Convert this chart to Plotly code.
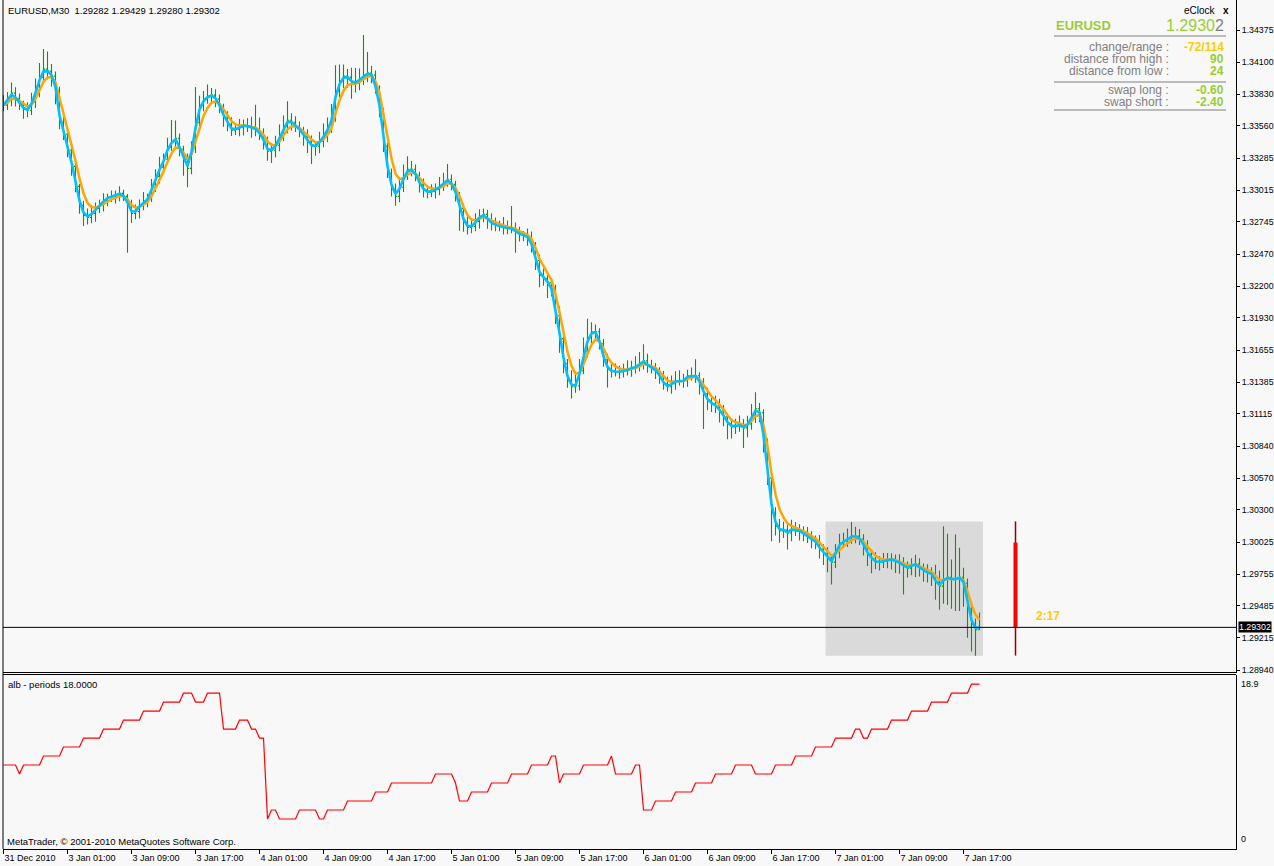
import pandas as pd
import plotly.graph_objects as go

SYMBOL = "EURUSD"
TIMEFRAME = "M30"
PIP = 0.0001

# ---------------- data ----------------
x_tick_bars = [0, 16, 32, 48, 64, 80, 96, 112, 128, 144, 160, 176, 192, 208, 224, 240]
x_tick_labels = ["31 Dec 2010", "3 Jan 01:00", "3 Jan 09:00", "3 Jan 17:00", "4 Jan 01:00",
                 "4 Jan 09:00", "4 Jan 17:00", "5 Jan 01:00", "5 Jan 09:00", "5 Jan 17:00",
                 "6 Jan 01:00", "6 Jan 09:00", "6 Jan 17:00", "7 Jan 01:00", "7 Jan 09:00",
                 "7 Jan 17:00"]

price_tick_values = [1.34375, 1.34100, 1.33830, 1.33560, 1.33285, 1.33015, 1.32745, 1.32470,
                     1.32200, 1.31930, 1.31655, 1.31385, 1.31115, 1.30840, 1.30570, 1.30300,
                     1.30025, 1.29755, 1.29485, 1.29215, 1.28940]
price_tick_labels = ["1.34375", "1.34100", "1.33830", "1.33560", "1.33285", "1.33015", "1.32745",
                     "1.32470", "1.32200", "1.31930", "1.31655", "1.31385", "1.31115", "1.30840",
                     "1.30570", "1.30300", "1.30025", "1.29755", "1.29485", "1.29215", "1.28940"]

first_open = 1.33780
close = [
    1.33736, 1.33788, 1.33839, 1.33796, 1.33745, 1.33702, 1.33694, 1.33762, 1.33864, 1.33975, 1.34043, 1.34026, 1.33983, 1.33864, 1.33592, 1.33490,
    1.33354, 1.33217, 1.33047, 1.32885, 1.32800, 1.32783, 1.32817, 1.32860, 1.32894, 1.32928, 1.32954, 1.32962, 1.32971, 1.32988, 1.32962, 1.32894,
    1.32817, 1.32834, 1.32885, 1.32920, 1.32945, 1.33039, 1.33132, 1.33209, 1.33277, 1.33379, 1.33430, 1.33456, 1.33362, 1.33277, 1.33200, 1.33371,
    1.33592, 1.33736, 1.33788, 1.33813, 1.33822, 1.33788, 1.33719, 1.33634, 1.33575, 1.33524, 1.33532, 1.33549, 1.33566, 1.33558, 1.33541, 1.33532,
    1.33490, 1.33430, 1.33345, 1.33354, 1.33396, 1.33473, 1.33558, 1.33609, 1.33592, 1.33558, 1.33524, 1.33473, 1.33430, 1.33388, 1.33388, 1.33430,
    1.33481, 1.33541, 1.33626, 1.33856, 1.33941, 1.33983, 1.33975, 1.33932, 1.33924, 1.33958, 1.33992, 1.34009, 1.33992, 1.33873, 1.33694, 1.33388,
    1.33158, 1.33022, 1.32962, 1.33039, 1.33132, 1.33192, 1.33192, 1.33141, 1.33064, 1.33013, 1.32996, 1.33005, 1.33022, 1.33047, 1.33073, 1.33107,
    1.33064, 1.32979, 1.32860, 1.32741, 1.32698, 1.32707, 1.32749, 1.32792, 1.32809, 1.32758, 1.32732, 1.32715, 1.32707, 1.32698, 1.32690, 1.32690,
    1.32664, 1.32639, 1.32630, 1.32613, 1.32545, 1.32417, 1.32290, 1.32264, 1.32230, 1.32162, 1.31949, 1.31754, 1.31541, 1.31396, 1.31345, 1.31354,
    1.31481, 1.31643, 1.31762, 1.31813, 1.31813, 1.31711, 1.31575, 1.31490, 1.31473, 1.31473, 1.31473, 1.31481, 1.31490, 1.31507, 1.31515, 1.31541,
    1.31566, 1.31524, 1.31507, 1.31481, 1.31430, 1.31371, 1.31345, 1.31371, 1.31396, 1.31396, 1.31396, 1.31439, 1.31439, 1.31439, 1.31379, 1.31286,
    1.31226, 1.31200, 1.31183, 1.31141, 1.31090, 1.31030, 1.31005, 1.31013, 1.31022, 1.30996, 1.31030, 1.31098, 1.31158, 1.31124, 1.30886, 1.30571,
    1.30273, 1.30162, 1.30120, 1.30128, 1.30103, 1.30137, 1.30128, 1.30120, 1.30094, 1.30069, 1.30043, 1.30026, 1.29967, 1.29932, 1.29890, 1.29856,
    1.29950, 1.30018, 1.30035, 1.30052, 1.30077, 1.30077, 1.30052, 1.29992, 1.29924, 1.29881, 1.29856, 1.29856, 1.29864, 1.29873, 1.29881, 1.29864,
    1.29847, 1.29822, 1.29805, 1.29830, 1.29839, 1.29805, 1.29779, 1.29762, 1.29754, 1.29686, 1.29652, 1.29711, 1.29728, 1.29711, 1.29711, 1.29728,
    1.29677, 1.29464, 1.29328, 1.29282, 1.29302,
]
# wick extensions above max(open, close) / below min(open, close), in pips
upper_wick_pips = [
    4, 6, 9, 5, 4, 3, 6, 8, 10, 12, 17, 15, 6, 4, 3, 5,
    4, 3, 5, 2, 4, 6, 7, 5, 4, 6, 3, 5, 4, 6, 3, 2,
    4, 6, 5, 8, 4, 7, 6, 9, 5, 8, 18, 15, 4, 3, 5, 6,
    30, 8, 7, 10, 6, 5, 4, 3, 5, 6, 4, 7, 5, 6, 8, 20,
    10, 5, 4, 6, 8, 10, 9, 16, 6, 5, 4, 3, 6, 5, 4, 8,
    10, 9, 12, 22, 14, 10, 6, 8, 12, 9, 34, 18, 6, 4, 3, 2,
    3, 4, 5, 7, 10, 11, 7, 4, 3, 5, 4, 6, 5, 8, 9, 13,
    4, 3, 2, 4, 6, 5, 7, 6, 5, 4, 6, 5, 4, 8, 6, 19,
    5, 4, 3, 6, 5, 3, 5, 6, 4, 3, 5, 8, 6, 4, 9, 12,
    10, 12, 16, 8, 6, 3, 4, 5, 6, 7, 5, 6, 8, 6, 9, 10,
    14, 6, 5, 4, 3, 5, 6, 7, 8, 9, 6, 5, 7, 14, 3, 4,
    5, 4, 7, 6, 5, 3, 4, 6, 8, 5, 7, 10, 14, 5, 3, 2,
    4, 5, 6, 7, 5, 8, 6, 5, 4, 6, 5, 4, 6, 4, 5, 3,
    6, 8, 7, 9, 12, 8, 6, 4, 5, 4, 6, 5, 7, 6, 5, 4,
    6, 5, 4, 6, 8, 5, 4, 6, 5, 8, 10, 45, 37, 15, 38, 25,
    8, 4, 6, 5, 12.7,
]
lower_wick_pips = [
    5, 4, 6, 7, 5, 8, 6, 4, 5, 6, 4, 7, 9, 12, 6, 5,
    6, 8, 5, 7, 9, 6, 5, 7, 4, 6, 5, 4, 6, 5, 4, 41,
    8, 5, 6, 4, 5, 3, 4, 6, 5, 4, 3, 5, 6, 14, 16, 5,
    4, 6, 5, 4, 6, 7, 5, 8, 6, 5, 4, 6, 7, 5, 8, 6,
    5, 7, 8, 10, 6, 5, 4, 6, 7, 5, 6, 8, 10, 15, 8, 6,
    5, 6, 4, 3, 5, 6, 9, 14, 8, 6, 5, 6, 7, 4, 6, 5,
    4, 6, 8, 5, 4, 3, 6, 5, 7, 6, 5, 4, 6, 5, 4, 3,
    5, 6, 19, 8, 6, 5, 4, 6, 5, 7, 6, 5, 4, 6, 5, 4,
    18, 6, 5, 7, 6, 8, 10, 6, 13, 5, 7, 12, 8, 6, 10, 5,
    4, 3, 5, 6, 7, 5, 6, 15, 5, 4, 6, 5, 4, 6, 5, 4,
    5, 6, 5, 7, 6, 5, 4, 6, 5, 4, 6, 5, 4, 6, 10, 30,
    8, 7, 6, 10, 8, 13, 10, 6, 5, 17, 8, 5, 6, 8, 10, 6,
    24, 8, 10, 6, 14, 7, 5, 8, 6, 5, 7, 6, 8, 10, 12, 19,
    5, 6, 4, 5, 4, 6, 5, 8, 10, 12, 6, 7, 5, 6, 8, 10,
    9, 24, 8, 6, 10, 7, 9, 8, 10, 15, 20, 15, 22, 25, 27, 27,
    20, 25, 23, 22, 0.2,
]
# "alb - periods 18" sub-window indicator values
alb_values = (
    [9, 9, 9, 9, 8, 9, 9, 9, 9, 9] + [10] * 5 + [11] * 5 + [12] * 5 + [13] * 5 + [14] * 5 +
    [15] * 5 + [16] * 5 + [17] * 3 + [16] * 3 + [17] * 4 + [13] * 4 + [14] * 3 + [13] * 2 +
    [12] * 2 + [3] + [4] * 2 + [3] * 5 + [4] * 5 + [3] * 2 + [4] * 5 + [5] * 7 + [6] * 4 +
    [7] * 11 + [8] * 5 + [7] + [5] * 3 + [6] * 5 + [7] * 5 + [8] * 5 + [9] * 5 + [10] * 2 +
    [7] + [8] * 5 + [9] * 7 + [10] + [8] * 5 + [9] * 2 + [4] * 3 + [5] * 5 + [6] * 5 +
    [7] * 5 + [8] * 5 + [9] * 5 + [8] * 5 + [9] * 5 + [10] * 5 + [11] * 5 + [12] * 5 +
    [13] * 2 + [12] * 2 + [13] * 5 + [14] * 5 + [15] * 5 + [16] * 5 + [17] * 5 + [18] * 3
)
alb_axis_max = 18.9

day_first_bar = 206
day_open, day_high, day_low = 1.30022, 1.30202, 1.29062
swap_long, swap_short = -0.60, -2.40
time_left = "2:17"
day_candle_offset_bars = 9

fast_ma_span = 1.5
slow_ma_span = 4

# ---------------- derived ----------------
n = len(close)
bar_index = list(range(n))
open_ = [first_open] + close[:-1]
high = [max(o, c) + u * PIP for o, c, u in zip(open_, close, upper_wick_pips)]
low = [min(o, c) - d * PIP for o, c, d in zip(open_, close, lower_wick_pips)]
last_price = close[-1]
s = pd.Series(close)
fast_ma = s.ewm(span=fast_ma_span, adjust=False).mean().tolist()
slow_ma = s.ewm(span=slow_ma_span, adjust=False).mean().tolist()

change_pips = round((last_price - day_open) / PIP)
range_pips = round((day_high - day_low) / PIP)
dist_high = round((day_high - last_price) / PIP)
dist_low = round((last_price - day_low) / PIP)
day_x = bar_index[-1] + day_candle_offset_bars

# ---------------- layout geometry ----------------
W, H = 1274, 866
ML, MR, MT, MB = 3, 38, 0, 17
PW, PH = W - ML - MR, H - MT - MB


def xp(px):
    return (px - ML) / PW


def yp(px):
    return (H - MB - px) / PH


FONT = "Liberation Sans"
BG = "#f8f8f8"
GREEN = "#00a000"
YGREEN = "#9acd32"
GOLD = "#ffcc00"
GRAY = "#808080"

fig = go.Figure()

fig.add_trace(go.Ohlc(
    x=bar_index, open=open_, high=high, low=low, close=close,
    increasing_line_color=GREEN, decreasing_line_color=GREEN,
    line=dict(width=1.1),
    tickwidth=0.4, xaxis="x", yaxis="y", showlegend=False, hoverinfo="skip"))
fig.add_trace(go.Scatter(x=bar_index, y=slow_ma, mode="lines",
                         line=dict(color="#ffa500", width=2.5), xaxis="x", yaxis="y",
                         showlegend=False, hoverinfo="skip"))
fig.add_trace(go.Scatter(x=bar_index, y=fast_ma, mode="lines",
                         line=dict(color="#00bfff", width=2.6), xaxis="x", yaxis="y",
                         showlegend=False, hoverinfo="skip"))
# daily candle of eClock
fig.add_trace(go.Scatter(x=[day_x, day_x], y=[day_low, day_high], mode="lines",
                         line=dict(color="#990000", width=1.5), xaxis="x", yaxis="y",
                         showlegend=False, hoverinfo="skip"))
fig.add_trace(go.Scatter(x=[day_x, day_x], y=[last_price, day_open], mode="lines",
                         line=dict(color="#ff0000", width=4), xaxis="x", yaxis="y",
                         showlegend=False, hoverinfo="skip"))
# sub window
fig.add_trace(go.Scatter(x=bar_index, y=alb_values, mode="lines",
                         line=dict(color="#ff0000", width=1.2), xaxis="x2", yaxis="y2",
                         showlegend=False, hoverinfo="skip"))

x_range = [-0.125, 308.125]
main_top = yp(0)
main_bot = yp(672)
sub_top = yp(674.5)

fig.update_layout(
    width=W, height=H, margin=dict(l=ML, r=MR, t=MT, b=MB),
    paper_bgcolor=BG, plot_bgcolor=BG,
    font=dict(family=FONT, size=9, color="black"),
    showlegend=False,
    xaxis=dict(domain=[0, 1], range=x_range, anchor="y", showticklabels=False,
               showgrid=False, zeroline=False, showline=True, linecolor="black",
               linewidth=1, ticks="", rangeslider=dict(visible=False), fixedrange=True),
    yaxis=dict(domain=[main_bot, main_top], range=[1.28923, 1.346298], side="right",
               tickvals=price_tick_values, ticktext=price_tick_labels, ticks="outside",
               ticklen=3, tickcolor="black", tickwidth=1, showline=True, linecolor="black",
               linewidth=1, showgrid=False, zeroline=False,
               tickfont=dict(family=FONT, size=8.8, color="black"), fixedrange=True),
    xaxis2=dict(domain=[0, 1], range=x_range, anchor="y2", tickvals=x_tick_bars,
                ticktext=x_tick_labels, ticks="outside", ticklen=4, tickcolor="black",
                ticklabelposition="outside right", showline=True, linecolor="black",
                linewidth=1, showgrid=False, zeroline=False,
                tickfont=dict(family=FONT, size=9, color="black"), fixedrange=True),
    yaxis2=dict(domain=[0, sub_top], range=[-0.333, 19.06], side="right", anchor="x2",
                showticklabels=False, ticks="", showline=True, linecolor="black",
                linewidth=1, showgrid=False, zeroline=False, fixedrange=True),
)

shapes = [
    # day range box
    dict(type="rect", xref="x", yref="y", x0=day_first_bar - 0.5, x1=bar_index[-1] + 0.875,
         y0=day_low, y1=day_high, fillcolor="#dadada", line=dict(width=0), layer="below"),
    # current price line
    dict(type="line", xref="paper", yref="y", x0=0, x1=1, y0=last_price, y1=last_price,
         line=dict(color="black", width=1)),
    # frame lines
    dict(type="line", xref="paper", yref="paper", x0=0, x1=0, y0=0, y1=1,
         line=dict(color="black", width=1)),
    dict(type="line", xref="paper", yref="paper", x0=0, x1=1, y0=sub_top, y1=sub_top,
         line=dict(color="black", width=1)),
]
# info panel separators
for py in (36, 82, 110):
    shapes.append(dict(type="line", xref="paper", yref="paper", x0=xp(1054), x1=xp(1226),
                       y0=yp(py), y1=yp(py), line=dict(color=GRAY, width=1)))
fig.update_layout(shapes=shapes)

ann = []
ann.append(dict(xref="paper", yref="paper", x=xp(6), y=yp(11), xanchor="left", yanchor="middle",
                text=f"{SYMBOL},{TIMEFRAME}  {open_[-1]:.5f} {high[-1]:.5f} {low[-1]:.5f} {close[-1]:.5f}",
                showarrow=False, font=dict(size=9.5, color="black")))
ann.append(dict(xref="paper", yref="paper", x=xp(6), y=yp(684.5), xanchor="left", yanchor="middle",
                text="alb - periods 18.0000", showarrow=False, font=dict(size=9.5, color="black")))
ann.append(dict(xref="paper", yref="paper", x=xp(5), y=yp(841), xanchor="left", yanchor="middle",
                text="MetaTrader, © 2001-2010 MetaQuotes Software Corp.", showarrow=False,
                font=dict(size=9.5, color="black")))
ann.append(dict(xref="paper", yref="y2", x=1, y=alb_axis_max, xanchor="left", yanchor="top",
                xshift=3, yshift=-1, text=f"{alb_axis_max}", showarrow=False,
                font=dict(size=9, color="black")))
ann.append(dict(xref="paper", yref="y2", x=1, y=0, xanchor="left", yanchor="bottom",
                xshift=3, text="0", showarrow=False, font=dict(size=9, color="black")))
# current price label
ann.append(dict(xref="paper", yref="y", x=1, y=last_price, xanchor="left", yanchor="middle",
                xshift=2, text=f"{last_price:.5f}", showarrow=False, bgcolor="black",
                borderpad=0, font=dict(size=8.8, color="white")))
# time left
ann.append(dict(xref="x", yref="y", x=day_x, y=last_price, xanchor="left", yanchor="bottom",
                xshift=18, yshift=2, text=f"<b>{time_left}</b>", showarrow=False,
                font=dict(size=12, color=GOLD)))
# info panel
ann.append(dict(xref="paper", yref="paper", x=xp(1218), y=yp(11), xanchor="right",
                yanchor="middle", text="eClock", showarrow=False, font=dict(size=10, color="black")))
ann.append(dict(xref="paper", yref="paper", x=xp(1231), y=yp(11), xanchor="right",
                yanchor="middle", text="<b>x</b>", showarrow=False, font=dict(size=10, color="black")))
ann.append(dict(xref="paper", yref="paper", x=xp(1054), y=yp(26), xanchor="left",
                yanchor="middle", text=f"<b>{SYMBOL}</b>", showarrow=False,
                font=dict(size=13, color=YGREEN)))
price_str = f"{last_price:.5f}"
ann.append(dict(xref="paper", yref="paper", x=xp(1226), y=yp(26), xanchor="right",
                yanchor="middle",
                text=f"<span style='color:{YGREEN}'>{price_str[:-1]}</span>"
                     f"<span style='color:{GRAY}'>{price_str[-1]}</span>",
                showarrow=False, font=dict(size=16, color=YGREEN)))
rows = [
    ("change/range :", f"{change_pips}/{range_pips}", GOLD, 47),
    ("distance from high :", f"{dist_high}", YGREEN, 59),
    ("distance from low :", f"{dist_low}", YGREEN, 71),
    ("swap long :", f"{swap_long:.2f}", YGREEN, 90),
    ("swap short :", f"{swap_short:.2f}", YGREEN, 102),
]
for label, value, col, py in rows:
    ann.append(dict(xref="paper", yref="paper", x=xp(1171), y=yp(py), xanchor="right",
                    yanchor="middle", text=label, showarrow=False,
                    font=dict(size=12, color=GRAY)))
    ann.append(dict(xref="paper", yref="paper", x=xp(1226), y=yp(py), xanchor="right",
                    yanchor="middle", text=f"<b>{value}</b>", showarrow=False,
                    font=dict(size=12, color=col)))
fig.update_layout(annotations=ann)

fig.write_html("out.html", include_plotlyjs=True, config={"displayModeBar": False},
               post_script="document.body.style.margin='0px';"
                           "document.documentElement.style.margin='0px';"
                           "document.body.style.overflow='hidden';")
